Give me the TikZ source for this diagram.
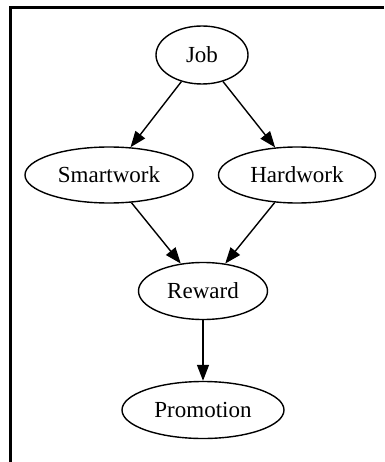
\documentclass[tikz,border=0pt]{standalone}
\usepackage{fontspec}
\setmainfont{Liberation Serif}
\usetikzlibrary{shapes.geometric, arrows.meta}

\tikzset{
  state/.style={ellipse, draw, line width=1.4pt, inner sep=0pt,
                font=\fontsize{23}{27}\selectfont},
  edge/.style={-{Triangle[length=16pt,width=12pt]}, line width=1.4pt}
}

\begin{document}
\begin{tikzpicture}[x=1pt, y=-1pt]
    \useasboundingbox (0,0) rectangle (384,462);
    % open frame, top and left sides only
    \draw[line width=3pt] (384,7.5) -- (10.5,7.5) -- (10.5,462);

    \node (job)       at (202,55)  [state, minimum width=92pt,  minimum height=58pt] {Job};
    \node (smartwork) at (109,175) [state, minimum width=168pt, minimum height=56pt] {Smartwork};
    \node (hardwork)  at (297,175) [state, minimum width=157pt, minimum height=56pt] {Hardwork};
    \node (reward)    at (203,291) [state, minimum width=129pt, minimum height=57pt] {Reward};
    \node (promotion) at (203,410) [state, minimum width=162pt, minimum height=57pt] {Promotion};

    \draw[edge] (job)       -- (smartwork);
    \draw[edge] (job)       -- (hardwork);
    \draw[edge] (smartwork) -- (reward);
    \draw[edge] (hardwork)  -- (reward);
    \draw[edge] (reward)    -- (promotion);
\end{tikzpicture}
\end{document}
